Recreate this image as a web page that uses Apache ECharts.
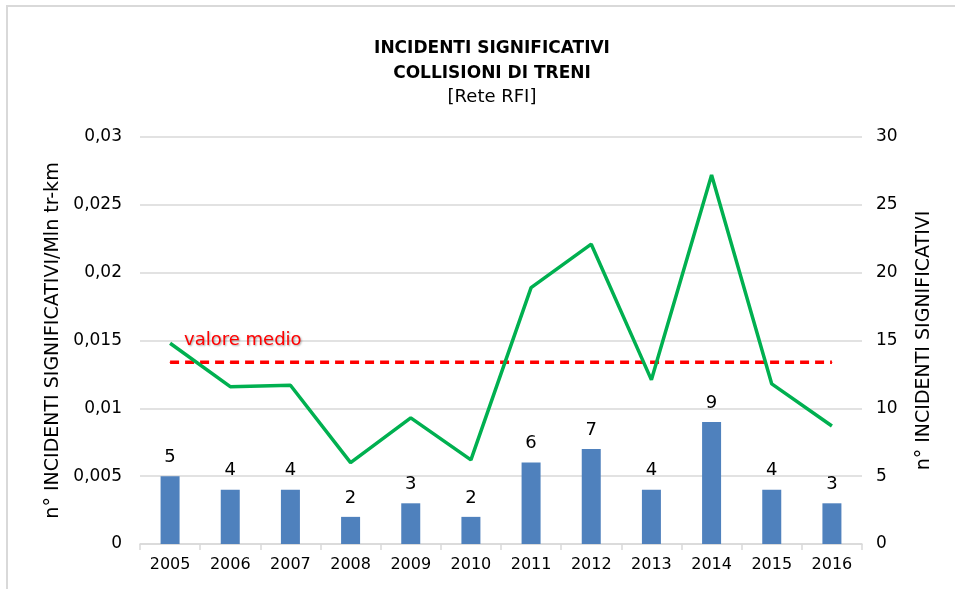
<!DOCTYPE html>
<html>
<head>
<meta charset="utf-8">
<script src="https://cdn.jsdelivr.net/npm/echarts@6/dist/echarts.min.js"></script>
<style>
html, body { margin: 0; padding: 0; background: #fff; }
#chart { width: 955px; height: 589px; }
</style>
</head>
<body>
<div id="chart"></div>
<script>
var years = ['2005', '2006', '2007', '2008', '2009', '2010', '2011', '2012', '2013', '2014', '2015', '2016'];
// n° incidenti significativi (asse destro)
var incidenti = [5, 4, 4, 2, 3, 2, 6, 7, 4, 9, 4, 3];
// incidenti / Mln tr-km (asse sinistro)
var tasso = [0.0148, 0.0116, 0.0117, 0.0060, 0.0093, 0.0062, 0.0189, 0.0221, 0.0121, 0.0272, 0.0118, 0.0087];
// valore medio
var media = [0.0134, 0.0134, 0.0134, 0.0134, 0.0134, 0.0134, 0.0134, 0.0134, 0.0134, 0.0134, 0.0134, 0.0134];

var font = '"DejaVu Sans", sans-serif';
var myChart = echarts.init(document.getElementById('chart'));

var option = {
    animation: false,
    graphic: [{
        type: 'rect',
        shape: { x: 7, y: 6, width: 1000, height: 700 },
        style: { fill: 'none', stroke: '#d9d9d9', lineWidth: 2 },
        silent: true
    }],
    title: [{
        text: 'INCIDENTI SIGNIFICATIVI\nCOLLISIONI DI TRENI',
        left: 487,
        textAlign: 'center',
        top: 31,
        textStyle: { fontFamily: font, fontWeight: 'bold', fontSize: 17, color: '#000', lineHeight: 25 }
    }, {
        text: '[Rete RFI]',
        left: 487,
        textAlign: 'center',
        top: 83,
        textStyle: { fontFamily: font, fontWeight: 'normal', fontSize: 18, color: '#000' }
    }],
    grid: { left: 140, right: 93, top: 137, bottom: 45 },
    xAxis: {
        type: 'category',
        data: years,
        axisLine: { lineStyle: { color: '#d9d9d9', width: 1.5 } },
        axisTick: { show: true, length: 6, lineStyle: { color: '#d9d9d9', width: 1.5 } },
        axisLabel: { color: '#000', fontSize: 16, fontFamily: font, margin: 13 }
    },
    yAxis: [{
        type: 'value',
        min: 0,
        max: 0.03,
        interval: 0.005,
        name: 'n° INCIDENTI SIGNIFICATIVI/Mln tr-km',
        nameLocation: 'middle',
        nameRotate: 90,
        nameGap: 68,
        nameTextStyle: { color: '#000', fontSize: 19, fontFamily: font },
        axisLine: { show: false },
        axisTick: { show: false },
        splitLine: { lineStyle: { color: '#d9d9d9', width: 1.5 } },
        axisLabel: {
            color: '#000', fontSize: 17, fontFamily: font, margin: 18,
            formatter: function (v) { return String(+v.toFixed(3)).replace('.', ','); }
        }
    }, {
        type: 'value',
        min: 0,
        max: 30,
        interval: 5,
        name: 'n° INCIDENTI SIGNIFICATIVI',
        nameLocation: 'middle',
        nameRotate: 90,
        nameGap: 53,
        nameTextStyle: { color: '#000', fontSize: 19, fontFamily: font },
        axisLine: { show: false },
        axisTick: { show: false },
        splitLine: { show: false },
        axisLabel: { color: '#000', fontSize: 17, fontFamily: font, margin: 14 }
    }],
    series: [{
        type: 'bar',
        yAxisIndex: 1,
        data: incidenti,
        barWidth: 19,
        itemStyle: { color: '#4f81bd' },
        label: { show: true, position: 'top', distance: 10, color: '#000', fontSize: 18, fontFamily: font },
        z: 2
    }, {
        type: 'line',
        yAxisIndex: 0,
        data: media,
        symbol: 'circle',
        symbolSize: 1,
        showSymbol: true,
        lineStyle: { color: '#ff0000', width: 3.5, type: [9, 6] },
        itemStyle: { color: '#ff0000' },
        label: {
            show: true,
            position: 'top',
            align: 'left',
            offset: [14, -7],
            formatter: function (p) { return p.dataIndex === 0 ? 'valore medio' : ''; },
            color: '#ff0000',
            fontSize: 18,
            fontFamily: font,
            textShadowColor: 'rgba(0,0,0,0.35)',
            textShadowBlur: 2,
            textShadowOffsetX: 1,
            textShadowOffsetY: 1
        },
        z: 3
    }, {
        type: 'line',
        yAxisIndex: 0,
        data: tasso,
        symbol: 'none',
        lineStyle: { color: '#00b050', width: 3.5 },
        z: 4
    }]
};
myChart.setOption(option);
</script>
</body>
</html>
